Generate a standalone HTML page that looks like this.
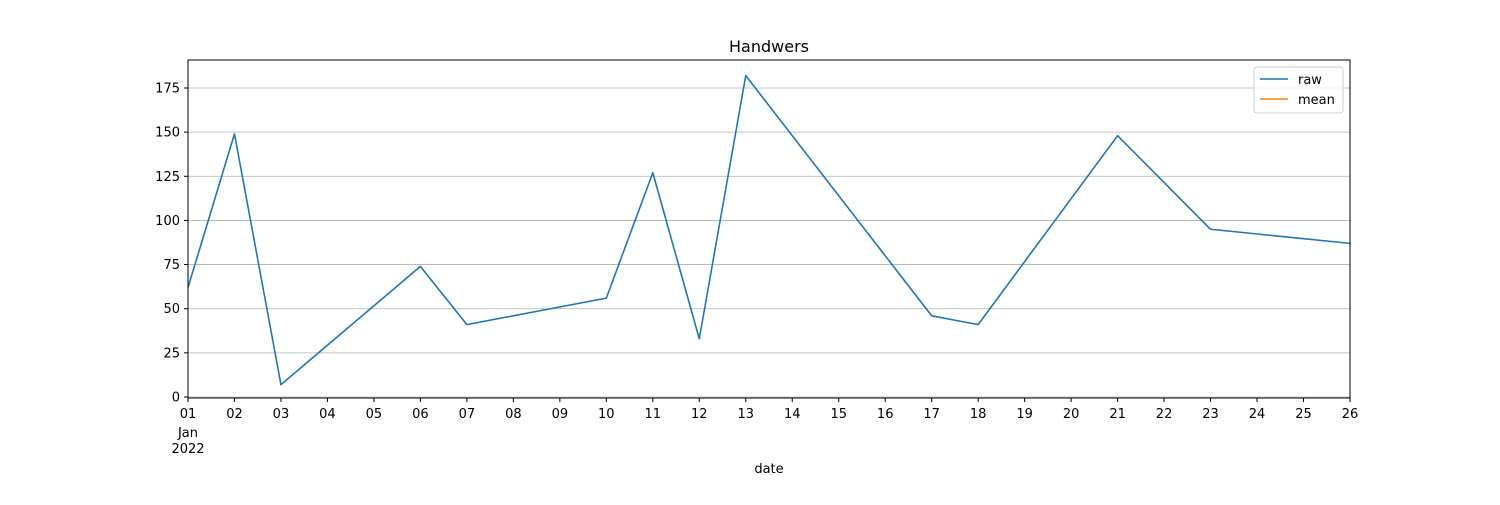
<!DOCTYPE html>
<html><head><meta charset="utf-8"><style>
body{margin:0;background:#fff;font-family:"Liberation Sans","DejaVu Sans",sans-serif;}
svg text{font-family:"DejaVu Sans","Liberation Sans",sans-serif;font-size:13px;fill:#000;}
</style></head><body>
<svg id="chart" width="1500" height="500" xmlns="http://www.w3.org/2000/svg">
<rect width="1500" height="500" fill="#fff"/>
<g id="grid"></g>
<g id="series"></g>
<rect x="188" y="60" width="1162" height="338" fill="none" stroke="#000" stroke-width="1"/>
<g id="axes"></g>
<text x="769" y="52" text-anchor="middle" style="font-size:16px">Handwers</text>
<text x="769" y="473" text-anchor="middle">date</text>
<g>
<rect x="1254" y="67" width="89" height="46" fill="#fff" fill-opacity="0.8" stroke="#ccc" rx="3"/>
<g><line x1="1260" y1="79" x2="1288" y2="79" stroke="#1f77b4" stroke-width="1.5"/><text x="1298" y="84">raw</text></g>
<g><line x1="1260" y1="99" x2="1288" y2="99" stroke="#ff7f0e" stroke-width="1.5"/><text x="1298" y="104">mean</text></g>
</g>
</svg>
<script>
const days=[1,2,3,6,7,10,11,12,13,17,18,21,23,26];
const rawValues=[62,149,7,74,41,56,127,33,182,46,41,148,95,87];
const yTicks=[0,25,50,75,100,125,150,175];
const xTickDays=[1,2,3,4,5,6,7,8,9,10,11,12,13,14,15,16,17,18,19,20,21,22,23,24,25,26];
const NS="http://www.w3.org/2000/svg";
const X=d=>188+(d-1)*(1162/25);
const Y=v=>397-v*(309/175);
function mk(tag,attrs,parent){const e=document.createElementNS(NS,tag);for(const k in attrs)e.setAttribute(k,attrs[k]);parent.appendChild(e);return e;}
const grid=document.getElementById('grid'),axes=document.getElementById('axes'),series=document.getElementById('series');
yTicks.forEach(v=>{
 const g=mk('line',{x1:188,x2:1350,y1:Y(v),y2:Y(v),stroke:'#b0b0b0','stroke-width':0.8},grid);
 
 
 mk('line',{x1:184,x2:188,y1:Y(v),y2:Y(v),stroke:'#000'},axes);
 const t=mk('text',{x:180,y:Y(v)+4.5,'text-anchor':'end'},axes);
 
 
 t.textContent=v;
});
xTickDays.forEach(d=>{
 mk('line',{x1:X(d),x2:X(d),y1:398,y2:402,stroke:'#000'},axes);
 const t=mk('text',{x:X(d),y:418,'text-anchor':'middle'},axes);
 
 
 t.textContent=String(d).padStart(2,'0');
});
const t2=mk('text',{x:X(1),y:437,'text-anchor':'middle'},axes);t2.textContent='Jan';


const t3=mk('text',{x:X(1),y:453,'text-anchor':'middle'},axes);t3.textContent='2022';


const p=mk('polyline',{points:days.map((d,i)=>X(d)+','+Y(rawValues[i])).join(' '),fill:'none',stroke:'#1f77b4','stroke-width':1.6,'stroke-linejoin':'round'},series);


</script>
</body></html>
